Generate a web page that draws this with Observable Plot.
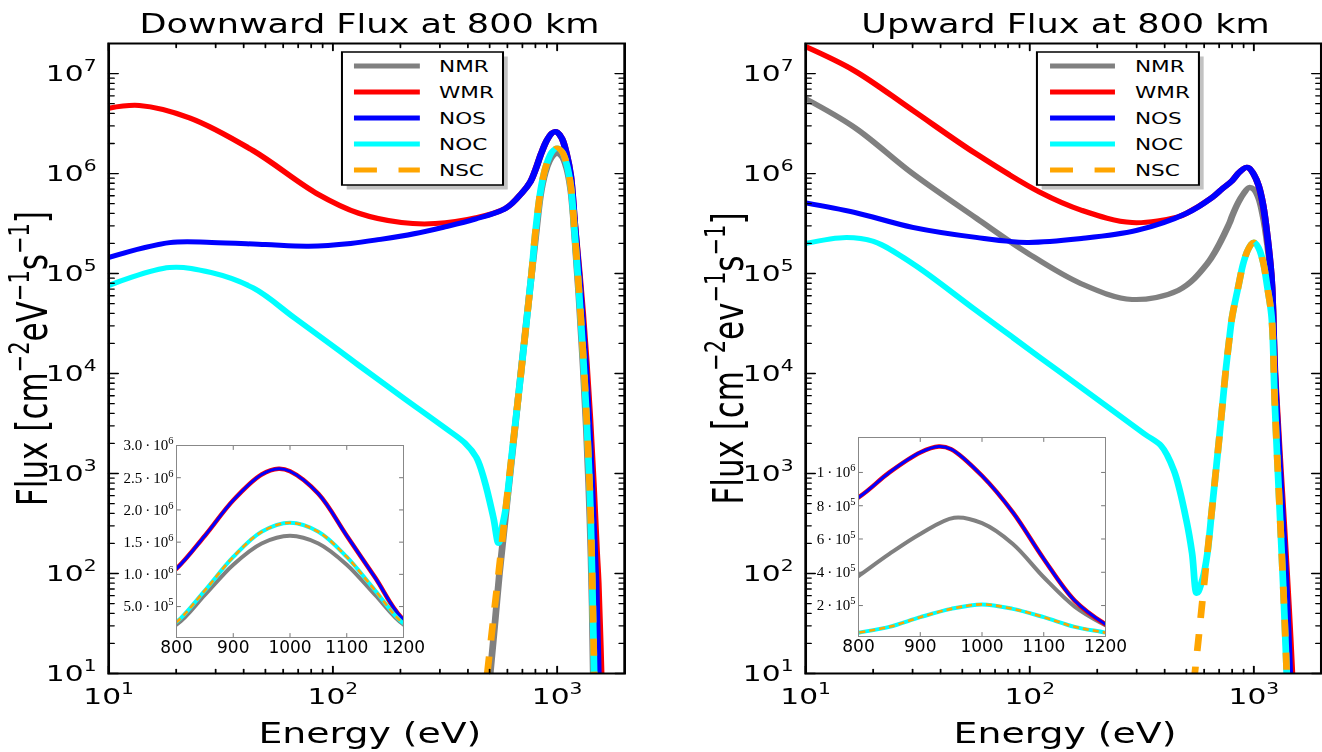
<!DOCTYPE html>
<html><head><meta charset="utf-8">
<script src="https://cdn.jsdelivr.net/npm/d3@7"></script>
<script src="https://cdn.jsdelivr.net/npm/@observablehq/plot@0.6"></script>
<style>
html,body{margin:0;padding:0;background:#fff;}
#root{position:relative;width:1322px;height:752px;overflow:hidden;background:#fff;}
#main{position:absolute;left:0;top:0;width:979.26px;height:752px;transform:scaleX(1.35);transform-origin:0 0;}
.abs{position:absolute;}
.abs svg{display:block;}
</style></head>
<body><div id="root"><div id="main"></div></div>
<script>
// ---------- data ----------
const seriesNames = ["NMR", "WMR", "NOS", "NOC", "NSC"];
const seriesColors = ["#808080", "#ff0000", "#0000ff", "#00ffff", "#ffa500"];
const panelTitles = ["Downward Flux at 800 km", "Upward Flux at 800 km"];
const xAxisLabel = "Energy (eV)";
const xMajor = [10, 100, 1000];
const yMajor = [10, 1e2, 1e3, 1e4, 1e5, 1e6, 1e7];
const insetXTicks = [800, 900, 1000, 1100, 1200];
const downInsetYTicks = [5e5, 1e6, 1.5e6, 2e6, 2.5e6, 3e6];
const upInsetYTicks = [2e5, 4e5, 6e5, 8e5, 1e6];

// Downward flux
const downNMR_E = [490, 503, 530, 553, 620, 690, 750, 800, 850, 900, 950, 1000, 1050, 1100, 1150, 1200, 1250, 1300, 1350, 1400, 1432, 1455, 1480];
const downNMR_F = [5.5, 10, 35, 100, 1.1e3, 1.05e4, 5.9e4, 2.2e5, 6.8e5, 1.15e6, 1.48e6, 1.6e6, 1.48e6, 1.15e6, 6.8e5, 2.2e5, 6e4, 1.4e4, 2.8e3, 3.5e2, 50, 5, 0.5];
const downWMR_E = [10, 13.7, 23, 44, 85, 131, 202, 286, 436, 590, 700, 760, 800, 850, 900, 950, 980, 1000, 1050, 1100, 1150, 1200, 1250, 1300, 1350, 1400, 1450, 1500, 1525, 1570, 1610];
const downWMR_F = [4.5e6, 4.8e6, 3.6e6, 1.7e6, 6.3e5, 4.0e5, 3.24e5, 3.16e5, 3.62e5, 4.5e5, 6.5e5, 8.3e5, 1.09e6, 1.6e6, 2.15e6, 2.55e6, 2.64e6, 2.6e6, 2.25e6, 1.6e6, 9.5e5, 3.0e5, 1.12e5, 4e4, 1.26e4, 3.5e3, 8e2, 1.6e2, 80, 10, 1];
const downNOS_E = [10, 18.7, 28.8, 50, 78, 120, 163, 230, 310, 430, 590, 700, 760, 800, 850, 900, 950, 980, 1000, 1050, 1100, 1150, 1200, 1250, 1300, 1350, 1400, 1450, 1490, 1525, 1560];
const downNOS_F = [1.45e5, 2.04e5, 2.05e5, 1.95e5, 1.88e5, 2.0e5, 2.2e5, 2.5e5, 2.9e5, 3.5e5, 4.5e5, 6.5e5, 8.3e5, 1.09e6, 1.6e6, 2.15e6, 2.55e6, 2.64e6, 2.6e6, 2.25e6, 1.6e6, 9.5e5, 3.0e5, 1e5, 3.2e4, 8.9e3, 2e3, 3.2e2, 80, 10, 1];
const downNOC_E = [10, 18.7, 28.8, 44, 68, 105, 131, 202, 310, 386, 436, 474, 520, 548, 570, 590, 635, 690, 769, 800, 850, 900, 950, 1000, 1050, 1100, 1150, 1200, 1250, 1300, 1350, 1400, 1432, 1462, 1490];
const downNOC_F = [7.6e4, 1.15e5, 1.02e5, 7.2e4, 3.55e4, 1.74e4, 1.2e4, 5.9e3, 2.95e3, 2.04e3, 1.45e3, 8.5e2, 3.6e2, 2.0e2, 3.0e2, 4.5e2, 1.94e3, 1.02e4, 1.0e5, 2.6e5, 7.5e5, 1.27e6, 1.66e6, 1.8e6, 1.66e6, 1.27e6, 7.5e5, 2.4e5, 7e4, 1.8e4, 4e3, 6.3e2, 1e2, 10, 1];
const downNSC_E = [470, 488, 520, 548, 590, 635, 690, 769, 800, 850, 900, 950, 1000, 1050, 1100, 1150, 1200, 1250, 1300, 1350, 1400, 1432, 1462, 1490];
const downNSC_F = [4.7, 10, 36, 100, 4.5e2, 1.94e3, 1.02e4, 1.0e5, 2.6e5, 7.5e5, 1.27e6, 1.66e6, 1.8e6, 1.66e6, 1.27e6, 7.5e5, 2.4e5, 7e4, 1.8e4, 4e3, 6.3e2, 1e2, 10, 1];

// Upward flux
const upNMR_E = [10, 16.5, 30, 57.5, 97, 170, 286, 460, 620, 776, 800, 850, 900, 955, 1000, 1050, 1100, 1150, 1200, 1240, 1300, 1350, 1400, 1440];
const upNMR_F = [5.6e6, 2.9e6, 1.0e6, 3.6e5, 1.62e5, 7.9e4, 5.5e4, 6.8e4, 1.26e5, 3.15e5, 3.77e5, 5.1e5, 6.3e5, 7.28e5, 6.95e5, 5.7e5, 3.7e5, 1.94e5, 8.1e4, 8.9e3, 8e2, 1.26e2, 16, 2];
const upWMR_E = [10, 16.5, 30, 57.5, 111, 170, 286, 460, 500, 650, 720, 800, 850, 900, 930, 950, 1000, 1050, 1100, 1150, 1200, 1240, 1300, 1350, 1400, 1440, 1478, 1520];
const upWMR_F = [1.86e7, 1.07e7, 4.3e6, 1.58e6, 6.5e5, 4.3e5, 3.24e5, 3.7e5, 4.0e5, 5.75e5, 7.0e5, 8.5e5, 1.0e6, 1.12e6, 1.156e6, 1.14e6, 9.8e5, 7.6e5, 4.8e5, 2.3e5, 8.7e4, 1.12e4, 1.6e3, 4e2, 1e2, 32, 10, 2.5];
const upNOS_E = [10, 16.5, 30, 57.5, 97, 170, 300, 500, 650, 720, 800, 850, 900, 930, 950, 1000, 1050, 1100, 1150, 1200, 1240, 1300, 1350, 1400, 1445, 1490];
const upNOS_F = [5.1e5, 4.1e5, 2.9e5, 2.3e5, 2.05e5, 2.24e5, 2.7e5, 4.0e5, 5.75e5, 7.0e5, 8.5e5, 1.0e6, 1.12e6, 1.156e6, 1.14e6, 9.8e5, 7.6e5, 4.8e5, 2.3e5, 8.7e4, 1e4, 1.26e3, 2.8e2, 63, 10, 1.6];
const upNOC_E = [10, 15.2, 20, 30, 57.5, 111, 210, 324, 385, 440, 500, 530, 557, 592, 620, 650, 705, 750, 775, 800, 850, 900, 950, 1000, 1050, 1100, 1150, 1200, 1240, 1300, 1350, 1402, 1440];
const upNOC_F = [2.0e5, 2.3e5, 2.1e5, 1.26e5, 4.3e4, 1.45e4, 5.1e3, 2.5e3, 1.9e3, 1.07e3, 3.4e2, 1.6e2, 63, 90, 158, 437, 2.6e3, 1.1e4, 2.1e4, 3.7e4, 7.2e4, 1.3e5, 1.8e5, 2.07e5, 1.8e5, 1.3e5, 7.2e4, 3.7e4, 5e3, 5e2, 80, 10, 2];
const upNSC_E = [520, 545, 566, 592, 620, 650, 705, 750, 775, 800, 850, 900, 950, 1000, 1050, 1100, 1150, 1200, 1240, 1300, 1350, 1402, 1440];
const upNSC_F = [3.7, 10, 22, 59, 158, 437, 2.6e3, 1.1e4, 2.1e4, 3.7e4, 7.2e4, 1.3e5, 1.8e5, 2.07e5, 1.8e5, 1.3e5, 7.2e4, 3.7e4, 5e3, 5e2, 80, 10, 2];

// ---------- helpers ----------
const NS = "http://www.w3.org/2000/svg";
const table = (E, F) => E.map((e, i) => ({E: e, F: F[i]}));
const down = [table(downNMR_E, downNMR_F), table(downWMR_E, downWMR_F), table(downNOS_E, downNOS_F), table(downNOC_E, downNOC_F), table(downNSC_E, downNSC_F)];
const up = [table(upNMR_E, upNMR_F), table(upWMR_E, upWMR_F), table(upNOS_E, upNOS_F), table(upNOC_E, upNOC_F), table(upNSC_E, upNSC_F)];

const powLabel = d => "10^" + Math.round(Math.log10(d));

const xMinor = [], yMinor = [];
for (const k of [10, 100, 1000]) for (let m = 2; m <= 9; m++) if (m * k < 2000) xMinor.push(m * k);
for (const k of [10, 1e2, 1e3, 1e4, 1e5, 1e6, 1e7]) for (let m = 2; m <= 9; m++) if (m * k < 2e7) yMinor.push(m * k);

const tickShape = {draw(ctx, l) { ctx.moveTo(0, 0); ctx.lineTo(0, -l); }};
function edgeTicks(xs, ys, len, color, sw) {
  const o = {length: len, anchor: "start", shape: tickShape, stroke: color, strokeWidth: sw};
  return [
    Plot.vector(xs, {...o, x: d => d, frameAnchor: "bottom", rotate: 0}),
    Plot.vector(xs, {...o, x: d => d, frameAnchor: "top", rotate: 180}),
    Plot.vector(ys, {...o, y: d => d, frameAnchor: "left", rotate: 90}),
    Plot.vector(ys, {...o, y: d => d, frameAnchor: "right", rotate: -90})
  ];
}
// turn "base^exp" tick labels into real superscripts
function superscripts(svg, fs, dy) {
  svg.querySelectorAll('g[aria-label="x-axis tick label"] text, g[aria-label="y-axis tick label"] text').forEach(t => {
    const s = t.textContent; const k = s.indexOf("^");
    if (k < 0) return;
    t.textContent = s.slice(0, k);
    const ts = document.createElementNS(NS, "tspan");
    ts.setAttribute("dy", dy); ts.setAttribute("font-size", fs);
    ts.textContent = s.slice(k + 1);
    t.appendChild(ts);
  });
  return svg;
}
function place(parent, el, left, top) {
  const d = document.createElement("div");
  d.className = "abs"; d.style.left = left + "px"; d.style.top = top + "px";
  d.appendChild(el); parent.appendChild(d); return d;
}

function mainPanel(data, width, marginLeft, marginRight) {
  const lines = data.map((rows, i) => {
    const o = {x: "E", y: "F", stroke: seriesColors[i], strokeWidth: 5, curve: "catmull-rom", clip: true};
    if (i === 4) { o.strokeDasharray = "17,16"; o.strokeLinecap = "butt"; }
    return Plot.line(rows, o);
  });
  const svg = Plot.plot({
    width, height: 752, marginLeft, marginRight, marginTop: 43, marginBottom: 79,
    x: {type: "log", domain: [10, 2000]},
    y: {type: "log", domain: [10, 2e7]},
    style: {fontFamily: "DejaVu Sans", fontSize: "22px", color: "black", background: "transparent", overflow: "visible"},
    marks: [
      ...lines,
      ...edgeTicks(xMinor, yMinor, 4, "black", 1.3),
      ...edgeTicks(xMajor, yMajor, 7, "black", 1.4),
      Plot.frame({stroke: "black", strokeWidth: 2}),
      Plot.axisX(xMajor, {anchor: "bottom", tickSize: 0, tickPadding: 15, tickFormat: powLabel, label: null, fontSize: 22}),
      Plot.axisY(yMajor, {anchor: "left", tickSize: 0, tickPadding: 9, tickFormat: powLabel, label: null, fontSize: 22})
    ]
  });
  return superscripts(svg, 15, -10);
}

function insetPanel(data, fw, fh, yDomain, yTicks, yFmt) {
  const rowsIn = data.map(r => r.filter(d => d.E >= 700 && d.E <= 1300));
  const widths = [4, 4.5, 3, 4, 2.6];
  const lines = rowsIn.map((rows, i) => {
    const o = {x: "E", y: "F", stroke: seriesColors[i], strokeWidth: widths[i], curve: "catmull-rom", clip: true};
    if (i === 4) { o.strokeDasharray = "6,4"; o.strokeLinecap = "butt"; }
    return Plot.line(rows, o);
  });
  const mL = 62, mR = 25, mT = 8, mB = 24;
  const svg = Plot.plot({
    width: mL + fw + mR, height: mT + fh + mB, marginLeft: mL, marginRight: mR, marginTop: mT, marginBottom: mB,
    x: {domain: [800, 1200]},
    y: {domain: yDomain},
    style: {fontFamily: "DejaVu Sans", fontSize: "17px", color: "black", background: "transparent", overflow: "visible"},
    marks: [
      Plot.frame({fill: "white", stroke: "none"}),
      ...lines,
      ...edgeTicks(insetXTicks, yTicks, 4, "#777", 1),
      Plot.frame({stroke: "#888", strokeWidth: 1}),
      Plot.axisX(insetXTicks, {anchor: "bottom", tickSize: 0, tickPadding: 3, tickFormat: d => String(d), label: null, fontSize: 17}),
      Plot.axisY(yTicks, {anchor: "left", tickSize: 0, tickPadding: 3, tickFormat: yFmt, label: null, fontSize: 15, fontFamily: "Liberation Serif"})
    ]
  });
  return superscripts(svg, 10.5, -6);
}

// ---------- build ----------
const main = document.getElementById("main");
const root = document.getElementById("root");
place(main, mainPanel(down, 489, 80, 26.8), 0, 0);
place(main, mainPanel(up, 490.26, 107.3, 1), 489, 0);

// overlay: titles, axis labels, legends
const ov = d3.select(main).append("div").attr("class", "abs").style("left", "0px").style("top", "0px")
  .append("svg").attr("width", 979.26).attr("height", 752).style("overflow", "visible")
  .style("font-family", "DejaVu Sans");

const titleX = [273.7, 789.3];
panelTitles.forEach((t, i) => ov.append("text").attr("x", titleX[i]).attr("y", 33).attr("text-anchor", "middle").attr("font-size", 26).text(t));
[274, 788.9].forEach(x => ov.append("text").attr("x", x).attr("y", 743).attr("text-anchor", "middle").attr("font-size", 28).text(xAxisLabel));

function yLabel(xb, ev) {
  const t = ov.append("text").attr("transform", `translate(${xb},358.5) rotate(-90)`).attr("text-anchor", "middle").attr("font-size", 31);
  const parts = [["Flux [cm", 0], ["−2", 1], [ev, 0], ["−1", 1], ["s", 0], ["−1", 1], ["]", 0]];
  let shifted = false;
  parts.forEach(([s, sup]) => {
    const ts = t.append("tspan").text(s);
    if (sup) { ts.attr("font-size", 21).attr("dy", shifted ? 0 : -13); shifted = true; }
    else { if (shifted) ts.attr("dy", 13); shifted = false; }
  });
}
yLabel(34.8, "eV");
yLabel(550.4, "ev");

function legend(x0, x1, lx0, lx1, tx) {
  const g = ov.append("g");
  g.append("rect").attr("x", x0 + 3.5).attr("y", 52 + 4.5).attr("width", x1 - x0).attr("height", 133).attr("fill", "#999").attr("opacity", 0.6);
  g.append("rect").attr("x", x0).attr("y", 52).attr("width", x1 - x0).attr("height", 133).attr("fill", "white").attr("stroke", "black").attr("stroke-width", 1.5);
  seriesNames.forEach((n, i) => {
    const y = 66 + 26 * i;
    const l = g.append("line").attr("x1", lx0).attr("x2", lx1).attr("y1", y).attr("y2", y).attr("stroke", seriesColors[i]).attr("stroke-width", 5);
    if (i === 4) l.attr("stroke-dasharray", "17,16");
    g.append("text").attr("x", tx).attr("y", y).attr("dy", "0.36em").attr("font-size", 16).text(n);
  });
}
legend(253.3, 372.6, 262.2, 311, 325.2);
legend(768.1, 888.1, 777.8, 825.9, 840.7);

// insets (not stretched)
const th = "\u2009";
place(root, insetPanel(down, 227, 192, [2e4, 3.0e6], downInsetYTicks,
  d => d >= 1e6 ? (d / 1e6).toFixed(1) + th + "·" + th + "10^6" : (d / 1e5).toFixed(1) + th + "·" + th + "10^5"), 176 - 62, 445 - 8);
place(root, insetPanel(up, 247, 199, [1.4e4, 1.21e6], upInsetYTicks,
  d => d >= 1e6 ? "1" + th + "·" + th + "10^6" : (d / 1e5) + th + "·" + th + "10^5"), 858 - 62, 437 - 8);
</script>
</body></html>
